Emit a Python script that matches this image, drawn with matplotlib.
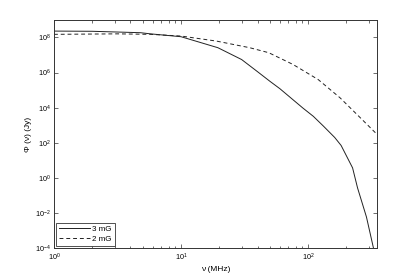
import numpy as np
import matplotlib.pyplot as plt
from matplotlib.ticker import LogLocator, NullLocator, NullFormatter

plt.rcParams['font.family'] = ['Liberation Sans', 'DejaVu Sans']
plt.rcParams['mathtext.fontset'] = 'custom'
plt.rcParams['mathtext.rm'] = 'Liberation Sans'

# frequency (MHz) and flux (Jy)
nu_3mG = [1.0, 2.0, 4.8, 5.75, 10.0, 19.5, 30.0, 39.8, 50.0, 60.0, 91.0, 110.0,
          132.0, 162.0, 182.0, 224.0, 245.0, 288.0, 327.0]
phi_3mG = [2.3e8, 2.24e8, 1.86e8, 1.6e8, 1.1e8, 2.6e7, 5.5e6, 1.15e6, 3.2e5, 1.2e5,
           9.5e3, 3.2e3, 8.9e2, 2.0e2, 7.0e1, 3.7, 2.7e-1, 5.9e-3, 1.0e-4]

nu_2mG = [1.0, 3.16, 5.75, 10.0, 19.0, 34.7, 49.0, 76.0, 120.0, 178.0, 257.0,
          339.0, 347.5]
phi_2mG = [1.5e8, 1.6e8, 1.5e8, 1.2e8, 6.2e7, 2.6e7, 1.35e7, 2.9e6, 4.0e5, 3.7e4,
           2.7e3, 3.7e2, 3.1e2]

x_ticks = [1, 10, 100]
y_ticks = [1e-4, 1e-2, 1e0, 1e2, 1e4, 1e6, 1e8]

fig = plt.figure(figsize=(4.15, 2.80), dpi=100)
ax = fig.add_axes([0.13, 0.114, 0.778, 0.815])

ax.loglog(nu_3mG, phi_3mG, '-', color='#222222', lw=0.7, label='3 mG')
ax.loglog(nu_2mG, phi_2mG, '--', color='#222222', lw=0.7, dashes=(4, 3), label='2 mG')

ax.set_xlim(1, 347.5)
ax.set_ylim(1e-4, 1e9)
ax.set_xticks(x_ticks)
ax.set_yticks(y_ticks)
ax.yaxis.set_minor_locator(NullLocator())
ax.yaxis.set_minor_formatter(NullFormatter())
ax.xaxis.set_minor_locator(LogLocator(base=10.0, subs=np.arange(2, 10)))
ax.xaxis.set_minor_formatter(NullFormatter())

ax.tick_params(which='both', direction='in', top=True, right=True,
               labelsize=5.2, color='#333333', width=0.5, pad=2.5)
ax.tick_params(which='major', length=3)
ax.tick_params(which='minor', length=1.8)
for s in ax.spines.values():
    s.set_linewidth(0.7)
    s.set_color('#333333')

ax.set_xlabel('ν (MHz)', fontsize=6, labelpad=2)
ax.set_ylabel('Φ (ν) (Jy)', fontsize=6, labelpad=2)

leg = ax.legend(loc='lower left', fontsize=5.8, frameon=True, fancybox=False,
                edgecolor='black', borderpad=0.35, handlelength=3.8,
                handletextpad=0.3, labelspacing=0.25, borderaxespad=0.3)
leg.get_frame().set_linewidth(0.6)

fig.savefig('out.png', dpi=100)
